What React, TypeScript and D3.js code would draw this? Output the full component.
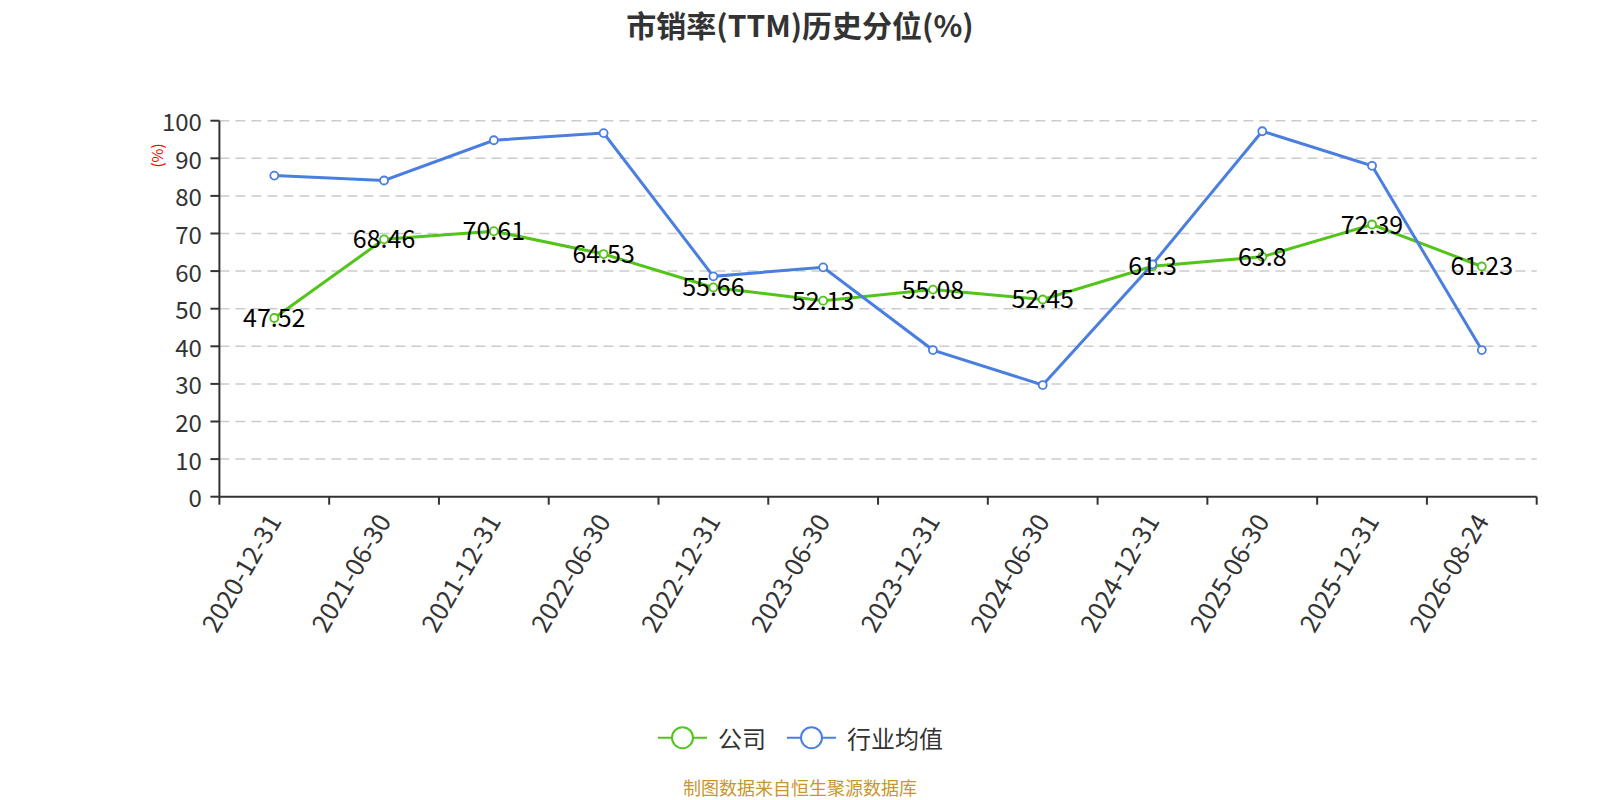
import React from "react";
import * as d3 from "d3";

const categories = [
  "2020-12-31", "2021-06-30", "2021-12-31", "2022-06-30", "2022-12-31", "2023-06-30",
  "2023-12-31", "2024-06-30", "2024-12-31", "2025-06-30", "2025-12-31", "2026-08-24",
];
const companyValues = [47.52, 68.46, 70.61, 64.53, 55.66, 52.13, 55.08, 52.45, 61.3, 63.8, 72.39, 61.23];
const industryValues = [85.4, 84.1, 94.8, 96.7, 58.6, 61.0, 39.0, 29.7, 61.8, 97.2, 88.0, 39.0];
const yTicks = [0, 10, 20, 30, 40, 50, 60, 70, 80, 90, 100];

const GREEN = "#52c41a";
const BLUE = "#4a7fe0";
const FONT = "'Noto Sans CJK SC', 'Noto Sans', sans-serif";

export default function App() {
  const width = 1600;
  const height = 800;
  const left = 219.4;
  const right = 1536.7;
  const top = 120.7;
  const bottom = 496.7;

  const x = d3.scaleBand<string>().domain(categories).range([left, right]);
  const y = d3.scaleLinear().domain([0, 100]).range([bottom, top]);
  const cx = (c: string) => (x(c) ?? 0) + x.bandwidth() / 2;

  const line = d3
    .line<number>()
    .x((_, i) => cx(categories[i]))
    .y((d) => y(d));

  const boundaries = categories.map((c) => x(c) ?? 0).concat([right]);

  const series = [
    { name: "公司", color: GREEN, values: companyValues, labels: true, legendX: 658 },
    { name: "行业均值", color: BLUE, values: industryValues, labels: false, legendX: 787 },
  ];

  return (
    <div style={{ position: "absolute", left: 0, top: 0 }}>
      <svg width={width} height={height} style={{ display: "block", fontFamily: FONT }}>
        <rect width={width} height={height} fill="#fff" />
        <text x={800} y={23.5} textAnchor="middle" dominantBaseline="central" fontSize={30} fontWeight="bold" fill="#333">
          市销率(TTM)历史分位(%)
        </text>

        {/* grid */}
        {yTicks.filter((t) => t > 0).map((t) => (
          <line key={t} x1={left} x2={right} y1={y(t)} y2={y(t)} stroke="#ccc" strokeWidth={1.5} strokeDasharray="10,6" />
        ))}

        {/* y axis */}
        <line x1={left} x2={left} y1={top} y2={bottom} stroke="#333" strokeWidth={2} />
        {yTicks.map((t) => (
          <g key={t}>
            <line x1={left - 9} x2={left} y1={y(t)} y2={y(t)} stroke="#333" strokeWidth={2} />
            <text x={left - 17.5} y={y(t)} textAnchor="end" dominantBaseline="central" fontSize={24} fill="#333">
              {t}
            </text>
          </g>
        ))}
        <text
          transform={`translate(156.5,155.5) rotate(-90)`}
          textAnchor="middle"
          dominantBaseline="central"
          fontSize={15}
          fill="red"
        >
          (%)
        </text>

        {/* x axis */}
        <line x1={left} x2={right} y1={bottom} y2={bottom} stroke="#333" strokeWidth={2} />
        {boundaries.map((b, i) => (
          <line key={i} x1={b} x2={b} y1={bottom} y2={bottom + 8} stroke="#333" strokeWidth={2} />
        ))}
        {categories.map((c) => (
          <text
            key={c}
            transform={`translate(${cx(c) - 2},${bottom + 18.5}) rotate(-60)`}
            textAnchor="end"
            dominantBaseline="central"
            fontSize={25.5}
            fill="#333"
          >
            {c}
          </text>
        ))}

        {/* lines */}
        {series.map((s) => (
          <g key={s.name}>
            <path d={line(s.values) ?? ""} fill="none" stroke={s.color} strokeWidth={3} />
            {s.values.map((v, i) => (
              <circle key={i} cx={cx(categories[i])} cy={y(v)} r={4} fill="#fff" stroke={s.color} strokeWidth={1.8} />
            ))}
          </g>
        ))}
        {series
          .filter((s) => s.labels)
          .map((s) =>
            s.values.map((v, i) => (
              <text
                key={s.name + i}
                x={cx(categories[i])}
                y={y(v) - 2}
                textAnchor="middle"
                dominantBaseline="central"
                fontSize={25}
                fill="#000"
              >
                {String(v)}
              </text>
            ))
          )}

        {/* legend */}
        {series.map((s) => (
          <g key={s.name}>
            <line x1={s.legendX} x2={s.legendX + 49} y1={737.7} y2={737.7} stroke={s.color} strokeWidth={2} />
            <circle cx={s.legendX + 24.5} cy={737.7} r={10.5} fill="#fff" stroke={s.color} strokeWidth={2} />
            <text x={s.legendX + 60} y={737.7} dominantBaseline="central" fontSize={24} fill="#333">
              {s.name}
            </text>
          </g>
        ))}

        <text x={800} y={787} textAnchor="middle" dominantBaseline="central" fontSize={18} fill="#c9962b">
          制图数据来自恒生聚源数据库
        </text>
      </svg>
    </div>
  );
}
